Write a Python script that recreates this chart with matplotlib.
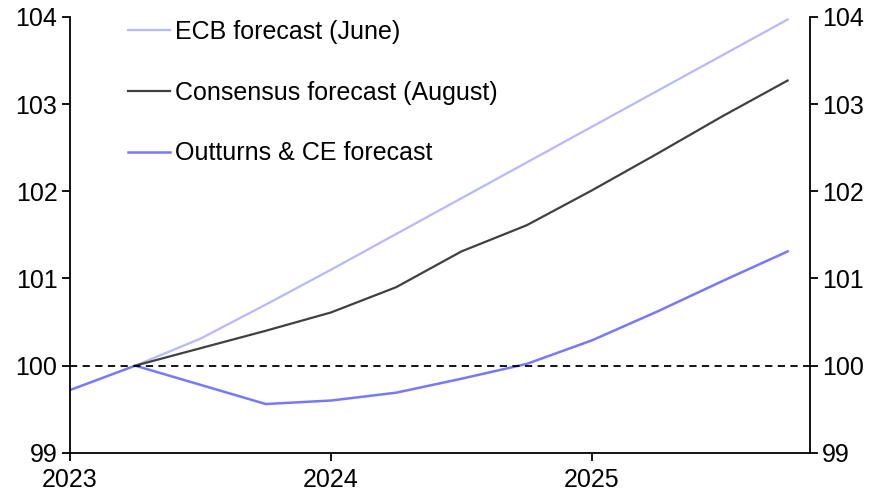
import numpy as np
import matplotlib.pyplot as plt

plt.rcParams['font.family'] = ['Liberation Sans', 'DejaVu Sans']

# quarterly dates (start of quarter as fraction of year)
dates_out = [2023.0, 2023.25, 2023.5, 2023.75, 2024.0, 2024.25, 2024.5, 2024.75,
             2025.0, 2025.25, 2025.5, 2025.75]
outturns = [99.72, 100.0, 99.78, 99.56, 99.60, 99.69, 99.85, 100.02,
            100.29, 100.62, 100.97, 101.31]

dates_fc = [2023.25, 2023.5, 2023.75, 2024.0, 2024.25, 2024.5, 2024.75,
            2025.0, 2025.25, 2025.5, 2025.75]
ecb = [100.0, 100.31, 100.70, 101.10, 101.51, 101.92, 102.33,
       102.74, 103.15, 103.56, 103.97]
consensus = [100.0, 100.20, 100.40, 100.61, 100.90, 101.31, 101.61,
             102.01, 102.43, 102.86, 103.27]

fig = plt.figure(figsize=(8.86, 4.96), dpi=100)
ax = fig.add_axes([0.079, 0.087, 0.835, 0.879])

ax.plot(dates_fc, ecb, color="#b8b8ff", lw=1.6, label="ECB forecast (June)")
ax.plot(dates_fc, consensus, color="#404040", lw=1.6, label="Consensus forecast (August)")
ax.plot(dates_out, outturns, color="#7878ff", lw=1.8, label="Outturns & CE forecast")
ax.axhline(100, color="black", lw=1.3, linestyle=(0, (4, 3)))

ax.set_xlim(2023.0, 2025.835)
ax.set_ylim(99, 104)
ax.set_xticks([2023, 2024, 2025])
ax.set_xticklabels(["2023", "2024", "2025"])
ax.set_yticks([99, 100, 101, 102, 103, 104])

ax.spines["top"].set_visible(False)
for s in ["left", "right", "bottom"]:
    ax.spines[s].set_linewidth(1.3)

ax.tick_params(axis="both", labelsize=18, width=1.3, length=6, direction="out")
ax.tick_params(axis="y", which="both", right=True, labelright=True, pad=3)
ax.tick_params(axis="x", pad=5)

leg = ax.legend(loc="upper left", bbox_to_anchor=(0.078, 0.993), frameon=False,
                fontsize=18, handlelength=1.7, handletextpad=0.2, labelspacing=1.47,
                borderaxespad=0, borderpad=0)

fig.savefig("out.png", dpi=100)
